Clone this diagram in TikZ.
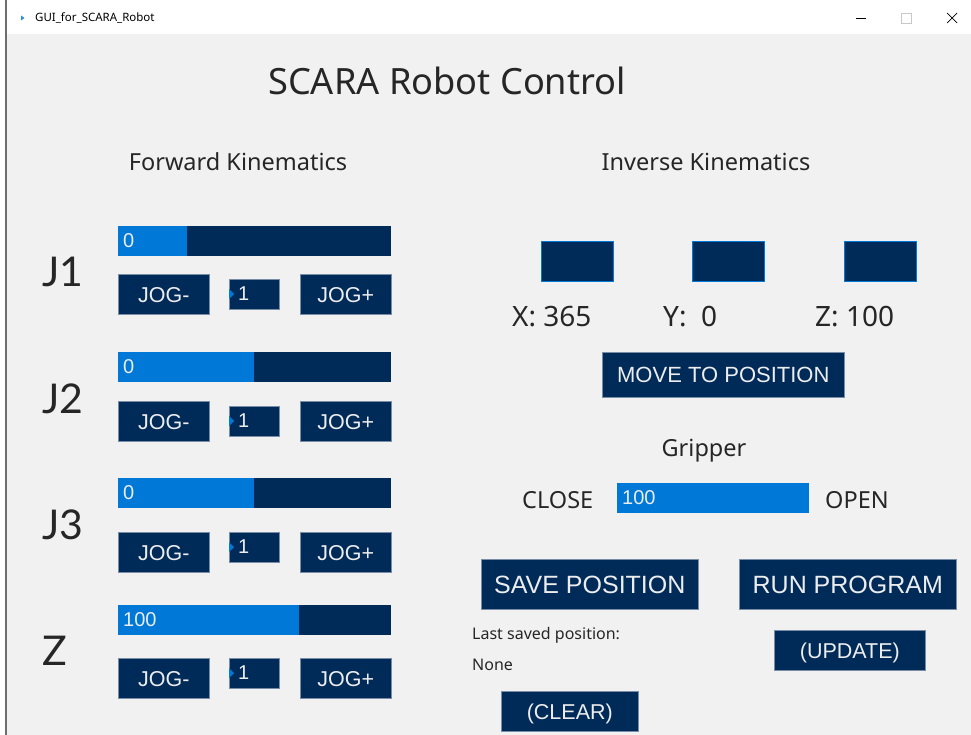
\documentclass[tikz,border=0pt]{standalone}
\usepackage{fontspec}
\newfontfamily\labfont{Noto Sans}
\newfontfamily\jointfont{Lato}
\newfontfamily\btnfont{Liberation Sans}
\definecolor{winbg}{HTML}{F1F1F1}
\definecolor{navy}{HTML}{002B59}
\definecolor{accent}{HTML}{0078D7}
\definecolor{edge}{HTML}{7A8DA6}
\definecolor{ink}{HTML}{262626}
\definecolor{btntext}{HTML}{EDEDED}
\tikzset{
  px/.style={x=1pt,y=-1pt},
  panelbtn/.style={draw=edge,line width=0.6pt,fill=navy,text=btntext,anchor=north west,inner sep=0pt,text height=15.4pt,text depth=0pt,font=\btnfont\fontsize{21.5}{24}\selectfont},
  bigbtn/.style={panelbtn,text height=17.9pt,font=\btnfont\fontsize{25}{28}\selectfont},
  lab/.style={text=ink,inner sep=0pt,font=\labfont\fontsize{23.5}{27}\selectfont},
  jlab/.style={text=ink,inner sep=0pt,anchor=base west,font=\jointfont\fontsize{41}{45}\selectfont},
  small/.style={text=ink,inner sep=0pt,anchor=west,font=\labfont\fontsize{16}{19}\selectfont},
  valtext/.style={text=btntext,inner sep=0pt,anchor=west,font=\btnfont\fontsize{20}{23}\selectfont},
  ikbox/.style={draw=accent,line width=0.8pt,fill=navy,anchor=north west,inner sep=0pt,minimum width=72pt,minimum height=40pt},
  coord/.style={lab,anchor=west,font=\labfont\fontsize{28}{31}\selectfont},
}
% slider: #1 name, #2 top y, #3 right end of filled part, #4 value
\newcommand{\jointslider}[4]{%
  \fill[navy] (118,#2) rectangle (391,#2+30);
  \fill[accent] (118,#2) rectangle (#3,#2+30);
  \node[valtext] (#1) at (123,#2+15) {#4};
}
% jog row: #1 prefix, #2 button top, #3 spin box top
\newcommand{\jogrow}[3]{%
  \node[panelbtn,minimum width=91pt,minimum height=40pt] (#1m) at (118,#2) {JOG-};
  \node[draw=edge,line width=0.6pt,fill=navy,anchor=north west,inner sep=0pt,minimum width=50pt,minimum height=30pt] (#1s) at (229,#3) {};
  \fill[accent] (229,#3+10) -- (234,#3+15) -- (229,#3+20) -- cycle;
  \node[valtext] (#1v) at (238,#3+15) {1};
  \node[panelbtn,minimum width=91pt,minimum height=40pt] (#1p) at (300,#2) {JOG+};
}
\begin{document}
\begin{tikzpicture}[px]
\useasboundingbox (0,0) rectangle (971,735);
% window frame
\fill[white] (0,0) rectangle (971,735);
\fill[winbg] (7,34) rectangle (971,735);
\draw[color={rgb,255:red,110;green,110;blue,110},line width=1.3pt] (6,0) -- (6,735);
% title bar
\fill[color={rgb,255:red,40;green,140;blue,230}] (21,15.5) -- (24.5,18) -- (21,20.5) -- cycle;
\node[anchor=west,inner sep=0pt,text=black,font=\labfont\fontsize{11.5}{13}\selectfont] (wintitle) at (35,18) {GUI\_for\_SCARA\_Robot};
\draw[black,line width=0.7pt] (856,18.5) -- (866,18.5);
\draw[color={rgb,255:red,200;green,200;blue,200},line width=0.7pt] (901.5,13.5) rectangle (911.5,23.5);
\draw[black,line width=0.7pt] (947,13) -- (957,23) (947,23) -- (957,13);

% headings
\node[text=ink,inner sep=0pt,font=\labfont\fontsize{36.2}{40}\selectfont] (title) at (447,81) {SCARA Robot Control};
\node[lab] (fk) at (238,162) {Forward Kinematics};
\node[lab] (ik) at (706,162) {Inverse Kinematics};

% forward kinematics
\node[jlab] (j1) at (42,287) {J1};
\node[jlab] (j2) at (42,413) {J2};
\node[jlab] (j3) at (42,539) {J3};
\node[jlab] (jz) at (42,665) {Z};

\jointslider{s1}{226}{187}{0}
\jointslider{s2}{352}{254}{0}
\jointslider{s3}{478}{254}{0}
\jointslider{s4}{605}{299}{100}

\jogrow{a}{274}{279}
\jogrow{b}{401}{406}
\jogrow{c}{532}{532}
\jogrow{d}{658}{658}

% inverse kinematics
\node[ikbox] (bx) at (541,241) {};
\node[ikbox] (by) at (692,241) {};
\node[ikbox] (bz) at (844,241) {};
\node[coord] (xv) at (512,317) {X: 365};
\node[coord] (yv) at (663,317) {Y:\ \ 0};
\node[coord] (zv) at (815,317) {Z: 100};
\node[panelbtn,text height=15.8pt,font=\btnfont\fontsize{22}{25}\selectfont,minimum width=242pt,minimum height=45pt] (move) at (602,352) {MOVE TO POSITION};

% gripper
\node[lab] (grip) at (704,451) {Gripper};
\node[lab,anchor=west] (close) at (522,500) {CLOSE};
\node[lab,anchor=west] (open) at (825,500) {OPEN};
\fill[accent] (617,483) rectangle (809,513);
\node[valtext] (gv) at (622,498) {100};

% program buttons
\node[bigbtn,minimum width=217pt,minimum height=50pt] (save) at (481,559) {SAVE POSITION};
\node[bigbtn,minimum width=217pt,minimum height=50pt] (run) at (739,559) {RUN PROGRAM};
\node[small] (last) at (472,635) {Last saved position:};
\node[small] (none) at (472,665) {None};
\node[panelbtn,minimum width=151pt,minimum height=40pt] (upd) at (774,630) {(UPDATE)};
\node[panelbtn,minimum width=137pt,minimum height=40pt] (clr) at (501,691) {(CLEAR)};
\end{tikzpicture}
\end{document}
